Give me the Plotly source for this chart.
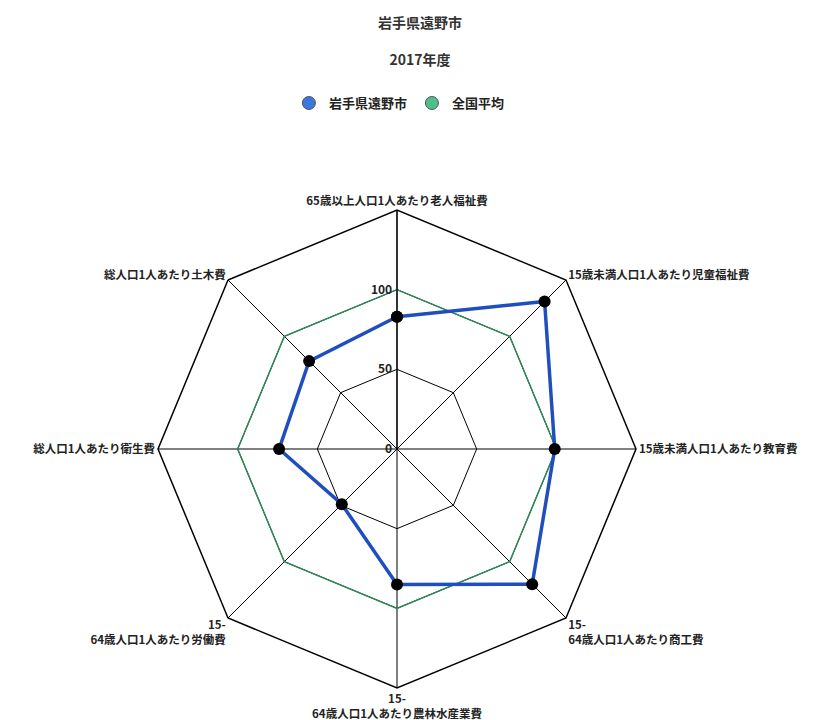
import plotly.graph_objects as go

categories = [
    "65歳以上人口1人あたり老人福祉費",
    "15歳未満人口1人あたり児童福祉費",
    "15歳未満人口1人あたり教育費",
    "15-<br>64歳人口1人あたり商工費",
    "15-<br>64歳人口1人あたり農林水産業費",
    "15-<br>64歳人口1人あたり労働費",
    "総人口1人あたり衛生費",
    "総人口1人あたり土木費",
]
city_name = "岩手県遠野市"
city_values = [83, 131, 99, 120, 85, 49, 74, 78]
avg_name = "全国平均"
avg_values = [100, 100, 100, 100, 100, 100, 100, 100]
radial_ticks = [0, 50, 100]

FONT = "Noto Sans CJK JP"
blue = "#1f4fbf"
green = "#2e8b57"

theta_closed = categories + [categories[0]]

fig = go.Figure()
fig.add_trace(go.Scatterpolar(
    r=avg_values + [avg_values[0]], theta=theta_closed, mode="lines",
    line=dict(color=green, width=1.5), showlegend=False, hoverinfo="r+theta",
))
fig.add_trace(go.Scatterpolar(
    r=city_values + [city_values[0]], theta=theta_closed, mode="lines+markers",
    line=dict(color=blue, width=3.5),
    marker=dict(color="black", size=12),
    showlegend=False,
))
# legend entries
for name, col in [(city_name, "#3a78e0"), (avg_name, "#4cc08a")]:
    fig.add_trace(go.Scatterpolar(
        r=[None], theta=[categories[0]], mode="markers", name=name,
        marker=dict(color=col, size=13, line=dict(color="#555", width=1)),
    ))

cx, cy, R = 389, 441, 239  # target centre (px) used to build domain
fig.update_layout(
    width=824, height=720,
    margin=dict(l=0, r=0, t=0, b=0),
    paper_bgcolor="white",
    font=dict(family=FONT, color="#222", size=12),
    title=dict(text=f"<b>{city_name}</b><br><br><b>2017年度</b>", x=0.5, xanchor="center",
               y=0.972, yanchor="top", font=dict(size=14, color="#333")),
    legend=dict(orientation="h", x=0.475, xanchor="center", y=0.868, yanchor="middle",
                font=dict(size=13, color="#222", weight=600), itemwidth=30),
    polar=dict(
        domain=dict(x=[(cx - R) / 824, (cx + R) / 824],
                    y=[(720 - cy - R) / 720, (720 - cy + R) / 720]),
        gridshape="linear",
        bgcolor="white",
        angularaxis=dict(
            rotation=90, direction="clockwise",
            showline=True, linecolor="black", linewidth=1.5,
            gridcolor="black", gridwidth=1.2,
            ticks="", tickfont=dict(size=11.5, color="#222", weight=600),
        ),
        radialaxis=dict(
            range=[0, 150], tickvals=radial_ticks, angle=90, tickangle=90,
            side="counterclockwise",
            showline=True, linecolor="black", linewidth=1.2,
            gridcolor="black", gridwidth=1.2, ticks="",
            tickfont=dict(size=12, color="#222", weight=600),
        ),
    ),
)

fig.write_html("out.html")
